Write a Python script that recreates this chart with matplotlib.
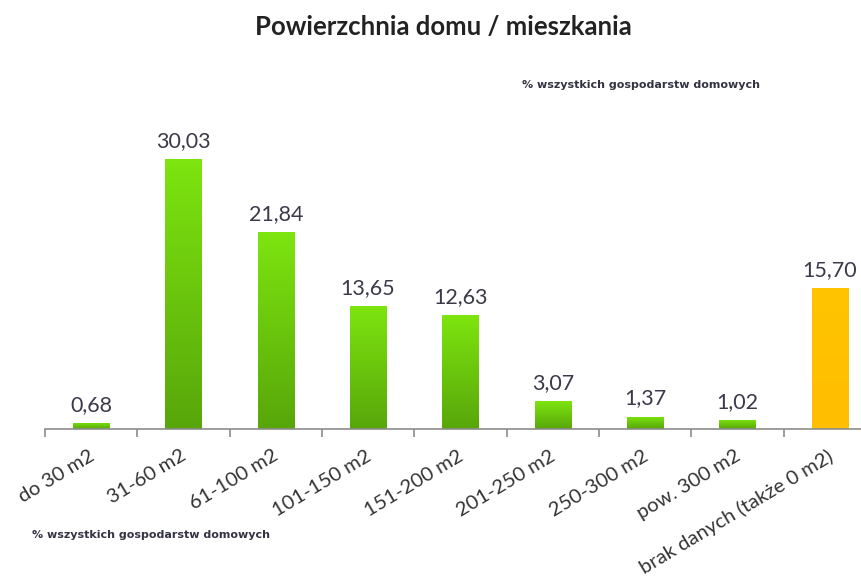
import matplotlib
matplotlib.use("Agg")
import matplotlib.pyplot as plt
import numpy as np
from matplotlib.colors import LinearSegmentedColormap
import matplotlib.transforms as mtrans

plt.rcParams['font.family'] = ['Lato', 'DejaVu Sans']

categories = ["do 30 m2", "31-60 m2", "61-100 m2", "101-150 m2", "151-200 m2",
              "201-250 m2", "250-300 m2", "pow. 300 m2", "brak danych (także 0 m2)"]
values = [0.68, 30.03, 21.84, 13.65, 12.63, 3.07, 1.37, 1.02, 15.70]
labels = ["0,68", "30,03", "21,84", "13,65", "12,63", "3,07", "1,37", "1,02", "15,70"]
title = "Powierzchnia domu / mieszkania"
note = "% wszystkich gospodarstw domowych"

fig = plt.figure(figsize=(8.62, 5.85), dpi=100)
ax = fig.add_axes([45/862, 156/585, 817/862, 315/585])
x = np.arange(len(categories))

bars = ax.bar(x, values, width=0.39, color="none", edgecolor="none", zorder=2)
green = LinearSegmentedColormap.from_list("g", ["#58a60a", "#7de50f"])
orange = LinearSegmentedColormap.from_list("o", ["#ffbe00", "#ffc400"])
grad = np.linspace(0, 1, 256).reshape(-1, 1)
for i, b in enumerate(bars):
    cmap = orange if i == len(bars) - 1 else green
    x0, y0 = b.get_x(), b.get_y()
    w, h = b.get_width(), b.get_height()
    im = ax.imshow(grad, cmap=cmap, aspect="auto", origin="lower",
                   extent=[x0, x0 + w, y0, y0 + h], zorder=2)
    im.set_clip_path(b)
    ax.text(x[i], values[i] + 0.9, labels[i], ha="center", va="bottom",
            fontsize=15.5, color="#3a3a4a")

for s in ["top", "right", "left"]:
    ax.spines[s].set_visible(False)
ax.spines["bottom"].set_color("#8c8c8c")
ax.spines["bottom"].set_linewidth(1.2)
ax.set_yticks([])
ax.set_xticks(x)
ax.set_xticklabels(categories, rotation=31, ha="right", rotation_mode="anchor",
                   fontsize=14.6, color="#333333")
ax.tick_params(axis="x", which="major", length=0, pad=13)
ax.set_xticks(np.arange(-0.5, 9, 1), minor=True)
ax.tick_params(axis="x", which="minor", length=6, color="#8c8c8c", width=1.2)
for lbl in ax.get_xticklabels():
    lbl.set_transform(lbl.get_transform() + mtrans.ScaledTranslation(-0.03, 0, fig.dpi_scale_trans))

ax.set_xlim(-0.5, 8.35)
ax.set_ylim(0, 35)

fig.text(443/862, 1 - 27/585, title, ha="center", va="center", fontsize=18.5,
         fontweight="bold", color="#222222")
fig.text(522/862, 1 - 85/585, note, ha="left", va="center", fontsize=8,
         fontweight="bold", color="#333344", family="DejaVu Sans")
fig.text(32/862, 1 - 535/585, note, ha="left", va="center", fontsize=8,
         fontweight="bold", color="#333344", family="DejaVu Sans")

fig.savefig("out.png", dpi=100)
